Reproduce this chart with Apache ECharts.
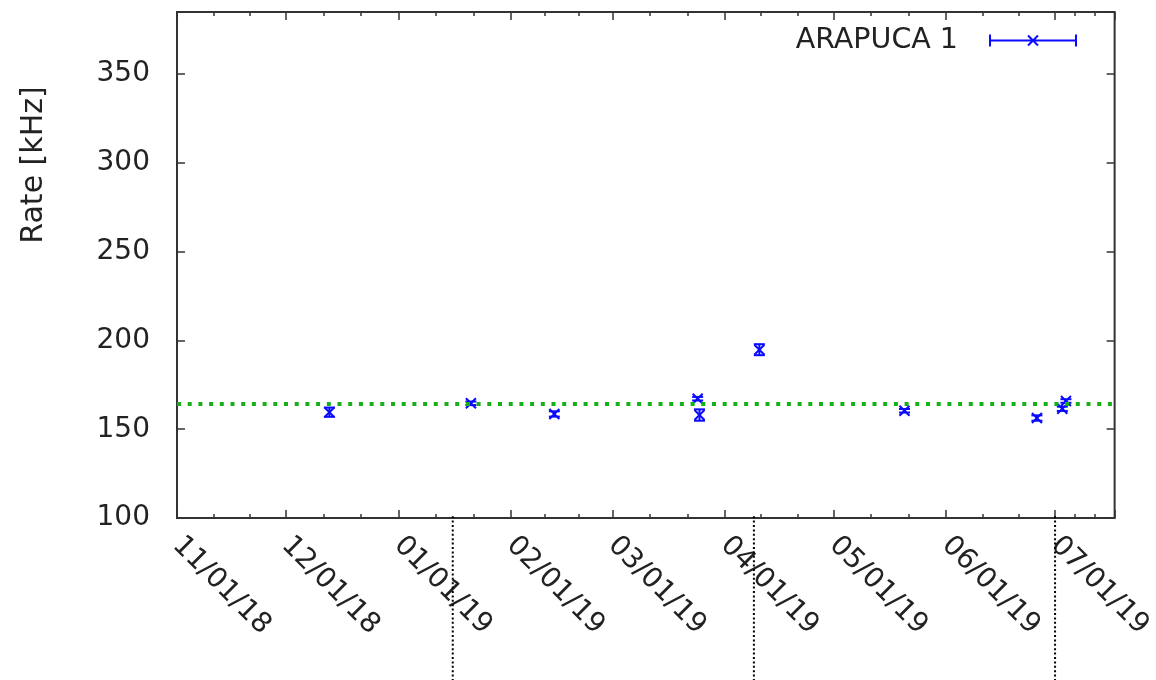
<!DOCTYPE html>
<html>
<head>
<meta charset="utf-8">
<script src="https://cdn.jsdelivr.net/npm/echarts@6/dist/echarts.min.js"></script>
<style>
  html, body { margin: 0; padding: 0; background: #ffffff; }
  #chart { width: 1156px; height: 680px; }
</style>
</head>
<body>
<div id="chart"></div>
<script>
// Measurement dates, rates (kHz) and their uncertainties
const DATES = ['2018-12-13', '2019-01-21', '2019-02-13', '2019-03-24 12:00', '2019-03-25',
               '2019-04-10 12:00', '2019-05-20 12:00', '2019-06-26', '2019-07-03', '2019-07-04'];
const RATES = [159.6, 164.6, 158.6, 167.2, 158.0, 194.8, 160.4, 156.3, 161.5, 165.9];
const ERRORS = [2.6, 1.0, 1.5, 1.0, 3.2, 3.1, 1.0, 1.5, 1.2, 1.0];

// Average rate drawn as a dotted reference line
const MEAN_RATE = 164.2;

// Dates marked by dotted vertical lines below the axis
const MARK_DATES = ['2019-01-16', '2019-04-09', '2019-07-01'];
const MARK_TOP = 101;
const MARK_BOTTOM = 0;

// Axis ranges
const X_MIN = '2018-11-01';
const X_MAX = '2019-07-17 10:00';
const Y_MIN = 100;
const Y_MAX = 385;
const Y_STEP = 50;

const SERIES_NAME = 'ARAPUCA 1';
const FONT = 'DejaVu Sans';
const TEXT_COLOR = '#222';
const FRAME_COLOR = '#333';
const BLUE = '#0a0aff';

const pad2 = n => (n < 10 ? '0' : '') + n;
function fmtDate(v) {
  const d = new Date(v);
  return pad2(d.getMonth() + 1) + '/' + pad2(d.getDate()) + '/' + pad2(d.getFullYear() % 100);
}

const points = DATES.map((d, i) => [d, RATES[i], ERRORS[i]]);
const marks = MARK_DATES.map(d => [d]);

// Error bar with caps and a cross at the measured value
function renderPoint(params, api) {
  const x = api.value(0), y = api.value(1), e = api.value(2);
  const c = api.coord([x, y]);
  const hi = api.coord([x, y + e]);
  const lo = api.coord([x, y - e]);
  const cap = 5.5, s = 5;
  const style = { stroke: BLUE, lineWidth: 2, fill: null };
  return {
    type: 'group',
    children: [
      { type: 'line', shape: { x1: c[0], y1: hi[1], x2: c[0], y2: lo[1] }, style },
      { type: 'line', shape: { x1: c[0] - cap, y1: hi[1], x2: c[0] + cap, y2: hi[1] }, style },
      { type: 'line', shape: { x1: c[0] - cap, y1: lo[1], x2: c[0] + cap, y2: lo[1] }, style },
      { type: 'line', shape: { x1: c[0] - s, y1: c[1] - s, x2: c[0] + s, y2: c[1] + s }, style },
      { type: 'line', shape: { x1: c[0] - s, y1: c[1] + s, x2: c[0] + s, y2: c[1] - s }, style }
    ]
  };
}

// Dotted vertical marker hanging below the plot
function renderMark(params, api) {
  const x = api.value(0);
  const top = api.coord([x, MARK_TOP]);
  const bottom = api.coord([x, MARK_BOTTOM]);
  return {
    type: 'line',
    shape: { x1: top[0], y1: top[1], x2: bottom[0], y2: bottom[1] },
    style: { stroke: '#000', lineWidth: 2, lineDash: [2, 2.4] }
  };
}

// Legend key: horizontal error bar with end caps and a cross
const LEGEND_ICON = 'path://M0,5h88v2h-88z M0,0h2v12h-2z M86,0h2v12h-2z ' +
  'M38.3,1.7L39.7,0.3L49.7,10.3L48.3,11.7z M48.3,0.3L49.7,1.7L39.7,11.7L38.3,10.3z';

const tickStyle = { color: FRAME_COLOR, width: 1.5 };
const dayMs = 24 * 3600 * 1000;

const chart = echarts.init(document.getElementById('chart'), null, { renderer: 'canvas' });
chart.setOption({
  backgroundColor: '#ffffff',
  animation: false,
  textStyle: { fontFamily: FONT },
  grid: {
    left: 177, right: 39, top: 12, bottom: 162,
    show: true, borderColor: FRAME_COLOR, borderWidth: 2, backgroundColor: 'transparent'
  },
  legend: {
    data: [{ name: SERIES_NAME, icon: LEGEND_ICON }],
    align: 'right',
    right: 74,
    top: 21,
    itemWidth: 88,
    itemHeight: 12,
    selectedMode: false,
    textStyle: { fontFamily: FONT, fontSize: 28.5, color: TEXT_COLOR, padding: [0, 26, 0, 0] }
  },
  xAxis: [{
    type: 'time',
    position: 'bottom',
    min: X_MIN,
    max: X_MAX,
    minInterval: 28 * dayMs,
    maxInterval: 31 * dayMs,
    splitNumber: 9,
    axisLine: { show: false },
    axisTick: { show: true, inside: true, length: 8, lineStyle: tickStyle },
    minorTick: { show: true, splitNumber: 3, length: 4, lineStyle: tickStyle },
    splitLine: { show: false },
    axisLabel: {
      rotate: -45, margin: 23, interval: 0, hideOverlap: false,
      fontFamily: FONT, fontSize: 28, color: TEXT_COLOR,
      formatter: fmtDate
    }
  }, {
    type: 'time',
    position: 'top',
    min: X_MIN,
    max: X_MAX,
    minInterval: 28 * dayMs,
    maxInterval: 31 * dayMs,
    splitNumber: 9,
    axisLine: { show: false },
    axisTick: { show: true, inside: true, length: 8, lineStyle: tickStyle },
    minorTick: { show: true, splitNumber: 3, length: 4, lineStyle: tickStyle },
    splitLine: { show: false },
    axisLabel: { show: false }
  }],
  yAxis: [{
    type: 'value',
    position: 'left',
    min: Y_MIN,
    max: Y_MAX,
    interval: Y_STEP,
    name: 'Rate [kHz]',
    nameLocation: 'middle',
    nameGap: 128,
    nameTextStyle: { fontFamily: FONT, fontSize: 30, color: TEXT_COLOR, padding: [0, 0, 0, 200] },
    axisLine: { show: false },
    axisTick: { show: true, inside: true, length: 8, lineStyle: tickStyle },
    splitLine: { show: false },
    axisLabel: { margin: 27, fontFamily: FONT, fontSize: 28, color: TEXT_COLOR, showMaxLabel: false }
  }, {
    type: 'value',
    position: 'right',
    min: Y_MIN,
    max: Y_MAX,
    interval: Y_STEP,
    axisLine: { show: false },
    axisTick: { show: true, inside: true, length: 8, lineStyle: tickStyle },
    splitLine: { show: false },
    axisLabel: { show: false }
  }],
  series: [{
    name: SERIES_NAME,
    type: 'custom',
    xAxisIndex: 0,
    yAxisIndex: 0,
    z: 2,
    itemStyle: { color: BLUE },
    dimensions: [{ name: 'date', type: 'time' }, 'rate', 'err'],
    encode: { x: 0, y: 1 },
    renderItem: renderPoint,
    data: points
  }, {
    name: 'markers',
    type: 'custom',
    xAxisIndex: 0,
    yAxisIndex: 0,
    clip: false,
    silent: true,
    z: 3,
    dimensions: [{ name: 'date', type: 'time' }],
    encode: { x: 0 },
    renderItem: renderMark,
    data: marks
  }, {
    name: 'mean',
    type: 'line',
    xAxisIndex: 0,
    yAxisIndex: 0,
    z: 5,
    data: [],
    markLine: {
      silent: true,
      symbol: ['none', 'none'],
      label: { show: false },
      lineStyle: { color: '#18b018', width: 4, type: [4, 6.7] },
      data: [{ yAxis: MEAN_RATE }]
    }
  }]
});
</script>
</body>
</html>
